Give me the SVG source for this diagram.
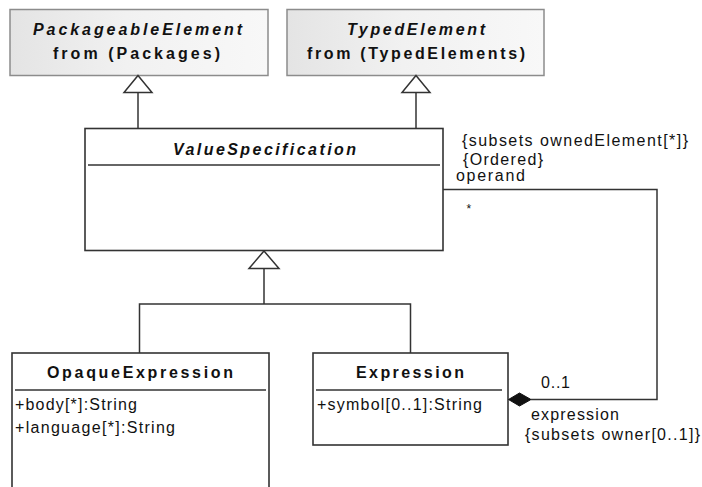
<svg xmlns="http://www.w3.org/2000/svg" width="702" height="487" viewBox="0 0 702 487">
  <defs>
    <linearGradient id="pkgFill" x1="0" y1="0" x2="1" y2="0">
      <stop offset="0" stop-color="#e4e4e4"/>
      <stop offset="0.45" stop-color="#f1f1f1"/>
      <stop offset="1" stop-color="#f8f8f8"/>
    </linearGradient>
  </defs>
  <style>
    text { font-family: "Liberation Sans", Arial, sans-serif; fill: #111; }
    .title { font-size: 16px; font-weight: bold; }
    .abstract { font-style: italic; }
    .attr { font-size: 16px; }
    .label { font-size: 16px; }
    .mult { font-size: 12px; }
    .ext { fill: url(#pkgFill); stroke: #8c8c8c; stroke-width: 1.5; }
    .cls { fill: #fff; stroke: #333; stroke-width: 1.6; }
    .sep { stroke: #333; stroke-width: 1.5; }
    .edge { fill: none; stroke: #333; stroke-width: 1.5; }
    .gen { fill: #fff; stroke: #333; stroke-width: 1.5; }
    .comp { fill: #111; stroke: #111; stroke-width: 1; }
  </style>

  <!-- imported superclasses -->
  <g id="PackageableElement">
    <rect class="ext" x="10" y="9.5" width="258" height="66"/>
    <text class="title abstract" x="33" y="35" textLength="209" lengthAdjust="spacing">PackageableElement</text>
    <text class="title" x="53" y="59" textLength="167" lengthAdjust="spacing">from (Packages)</text>
  </g>

  <g id="TypedElement">
    <rect class="ext" x="287" y="9.5" width="257" height="66"/>
    <text class="title abstract" x="347" y="35" textLength="138" lengthAdjust="spacing">TypedElement</text>
    <text class="title" x="307" y="59" textLength="218" lengthAdjust="spacing">from (TypedElements)</text>
  </g>

  <!-- abstract metaclass -->
  <g id="ValueSpecification">
    <rect class="cls" x="85" y="128.5" width="358" height="122"/>
    <line class="sep" x1="88" y1="165" x2="440" y2="165"/>
    <text class="title abstract" x="173" y="155" textLength="183" lengthAdjust="spacing">ValueSpecification</text>
  </g>

  <!-- concrete subclasses -->
  <g id="OpaqueExpression">
    <rect class="cls" x="12" y="353" width="257" height="150"/>
    <line class="sep" x1="15" y1="390" x2="266" y2="390"/>
    <text class="title" x="47" y="378" textLength="186" lengthAdjust="spacing">OpaqueExpression</text>
    <text class="attr" x="15" y="410" textLength="122" lengthAdjust="spacing">+body[*]:String</text>
    <text class="attr" x="15" y="433" textLength="160" lengthAdjust="spacing">+language[*]:String</text>
  </g>

  <g id="Expression">
    <rect class="cls" x="313" y="353" width="195" height="92"/>
    <line class="sep" x1="316" y1="390" x2="502" y2="390"/>
    <text class="title" x="356" y="378" textLength="108" lengthAdjust="spacing">Expression</text>
    <text class="attr" x="317" y="410" textLength="165" lengthAdjust="spacing">+symbol[0..1]:String</text>
  </g>

  <!-- connectors -->
  <g id="connectors">
    <!-- ValueSpecification generalizes to PackageableElement -->
    <line class="edge" x1="138" y1="92.5" x2="138" y2="128.5"/>
    <polygon class="gen" points="138,75.5 152,92.5 124,92.5"/>

    <!-- ValueSpecification generalizes to TypedElement -->
    <line class="edge" x1="416" y1="92.5" x2="416" y2="128.5"/>
    <polygon class="gen" points="416,75.5 430,92.5 402,92.5"/>

    <!-- subclasses generalize to ValueSpecification -->
    <polyline class="edge" points="139.5,353 139.5,304 410.5,304 410.5,353"/>
    <line class="edge" x1="264" y1="268.5" x2="264" y2="304"/>
    <polygon class="gen" points="264,251 279,268.5 249,268.5"/>

    <!-- composition: Expression owns operand ValueSpecifications -->
    <polyline class="edge" points="531,399.5 657,399.5 657,189.5 443,189.5"/>
    <polygon class="comp" points="508.5,399.5 519.5,393 531,399.5 519.5,406"/>

    <!-- association end labels -->
    <text class="label" x="462" y="146" textLength="226" lengthAdjust="spacing">{subsets ownedElement[*]}</text>
    <text class="label" x="463" y="165" textLength="80" lengthAdjust="spacing">{Ordered}</text>
    <text class="label" x="456" y="181" textLength="69" lengthAdjust="spacing">operand</text>
    <text class="mult" x="466.5" y="213">*</text>
    <text class="label" x="541" y="388" textLength="29" lengthAdjust="spacing">0..1</text>
    <text class="label" x="531" y="420" textLength="88" lengthAdjust="spacing">expression</text>
    <text class="label" x="525" y="440" textLength="175" lengthAdjust="spacing">{subsets owner[0..1]}</text>
  </g>
</svg>
